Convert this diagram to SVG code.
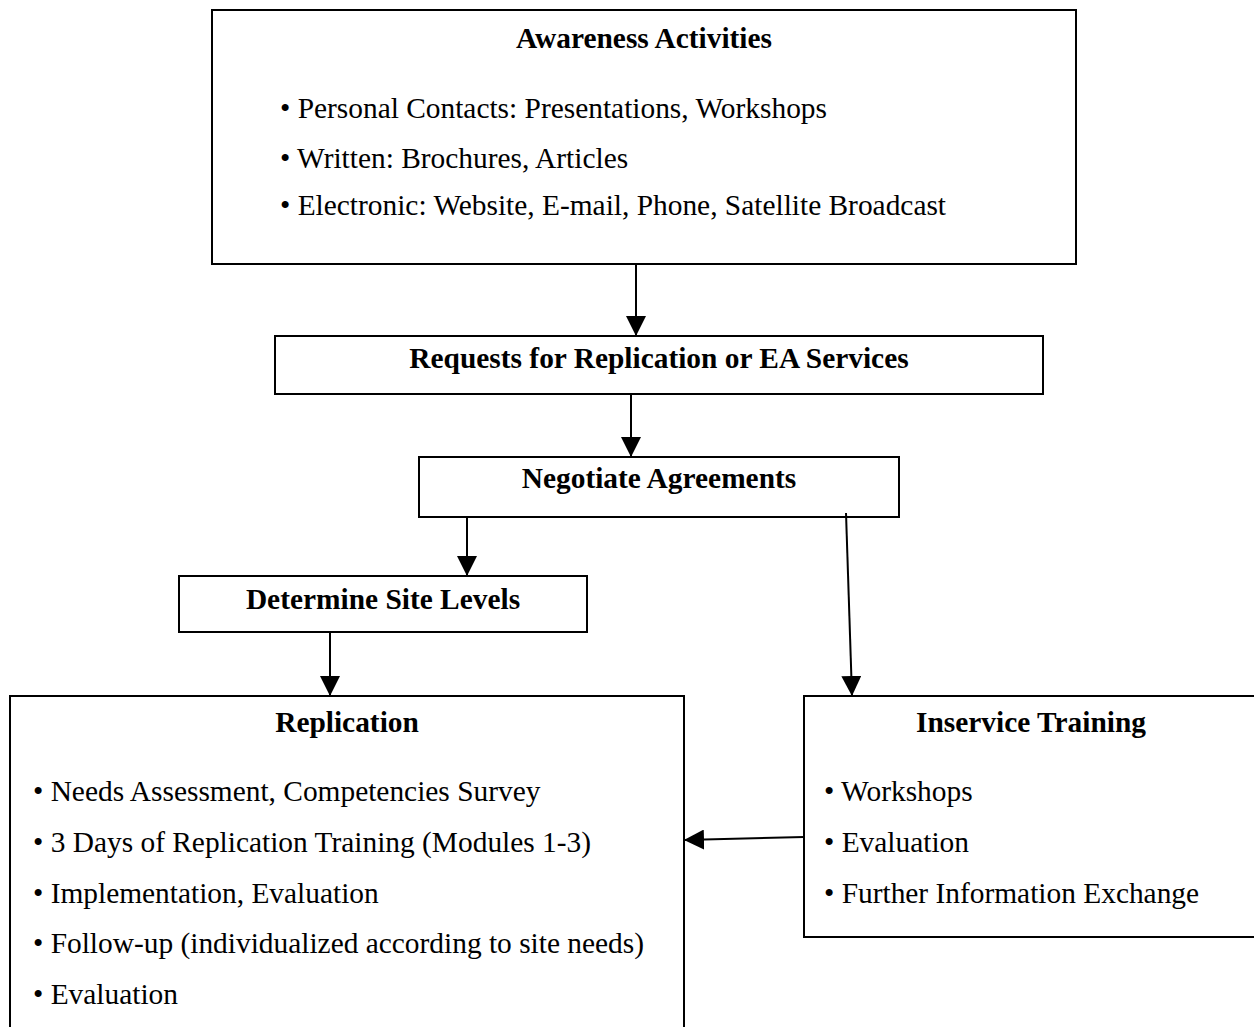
<svg xmlns="http://www.w3.org/2000/svg" width="1254" height="1027" viewBox="0 0 1254 1027">
<style>
.box{fill:#fff;stroke:#000;stroke-width:2}
.t{font-family:"Liberation Serif","Times New Roman",serif;font-size:29.4px;fill:#000}
.b{font-weight:bold;text-anchor:middle}
.c{stroke:#000;stroke-width:2;fill:none;marker-end:url(#ah)}
</style>
<defs>
<marker id="ah" viewBox="0 0 20 20" refX="20" refY="10" markerWidth="20" markerHeight="20" markerUnits="userSpaceOnUse" orient="auto">
<path d="M0,0 L20,10 L0,20 Z" fill="#000"/>
</marker>
</defs>
<rect width="1254" height="1027" fill="#fff"/>
<g id="awareness">
<rect class="box" x="212" y="10" width="864" height="254"/>
<text class="t b" x="644" y="48">Awareness Activities</text>
<text class="t" x="280" y="118">• Personal Contacts: Presentations, Workshops</text>
<text class="t" x="280" y="168">• Written: Brochures, Articles</text>
<text class="t" x="280" y="215">• Electronic: Website, E-mail, Phone, Satellite Broadcast</text>
</g>
<g id="requests">
<rect class="box" x="275" y="336" width="768" height="58"/>
<text class="t b" x="659" y="368">Requests for Replication or EA Services</text>
</g>
<g id="negotiate">
<rect class="box" x="419" y="457" width="480" height="60"/>
<text class="t b" x="659" y="488">Negotiate Agreements</text>
</g>
<g id="determine">
<rect class="box" x="179" y="576" width="408" height="56"/>
<text class="t b" x="383" y="609">Determine Site Levels</text>
</g>
<g id="replication">
<rect class="box" x="10" y="696" width="674" height="360"/>
<text class="t b" x="347" y="732">Replication</text>
<text class="t" x="33" y="801">• Needs Assessment, Competencies Survey</text>
<text class="t" x="33" y="852">• 3 Days of Replication Training (Modules 1-3)</text>
<text class="t" x="33" y="903">• Implementation, Evaluation</text>
<text class="t" x="33" y="953">• Follow-up (individualized according to site needs)</text>
<text class="t" x="33" y="1004">• Evaluation</text>
</g>
<g id="inservice">
<rect class="box" x="804" y="696" width="480" height="241"/>
<text class="t b" x="1031" y="732">Inservice Training</text>
<text class="t" x="824" y="801">• Workshops</text>
<text class="t" x="824" y="852">• Evaluation</text>
<text class="t" x="824" y="903">• Further Information Exchange</text>
</g>
<g id="connectors">
<line class="c" x1="636" y1="264" x2="636" y2="336"/>
<line class="c" x1="631" y1="394" x2="631" y2="457"/>
<line class="c" x1="467" y1="517" x2="467" y2="576"/>
<line class="c" x1="330" y1="632" x2="330" y2="696"/>
<line class="c" x1="846" y1="513" x2="852" y2="696"/>
<line class="c" x1="804" y1="837" x2="684" y2="840"/>
</g>
</svg>
